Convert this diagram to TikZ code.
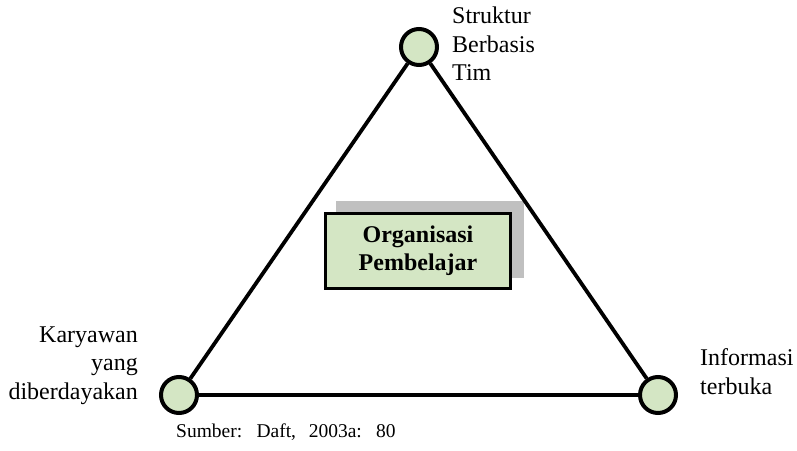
\documentclass[tikz,border=0pt]{standalone}
\usepackage{fontspec}
\setmainfont{Liberation Serif}
\usepackage{xcolor}
\usepackage{tikz}
\definecolor{hijau}{RGB}{212,230,196}
\definecolor{bayang}{RGB}{192,192,192}
\newcommand{\sumberfont}{\fontsize{19.5}{23}\selectfont\spaceskip=0.65em\relax}

\begin{document}
\begin{tikzpicture}[x=1pt,y=-1pt,
  titik/.style={circle,draw=black,line width=4pt,fill=hijau,minimum size=36pt,inner sep=0pt},
  sisi/.style={line width=3.8pt},
  teks/.style={font=\fontsize{24}{28.5}\selectfont,inner sep=0pt}]
\useasboundingbox (0,0) rectangle (797,450);

% Bayangan kotak tengah
\fill[bayang] (336,201) rectangle (524,278);

% Titik sudut segitiga
\node[titik] (tim) at (419,47) {};
\node[titik] (karyawan) at (179,395) {};
\node[titik] (info) at (658,395) {};

% Sisi segitiga
\draw[sisi] (tim) -- (karyawan);
\draw[sisi] (karyawan) -- (info);
\draw[sisi] (info) -- (tim);

% Kotak tengah
\node[draw,line width=2.2pt,fill=hijau,minimum width=185pt,minimum height=75pt,
  font=\fontsize{24}{28}\selectfont\bfseries,align=center] (org) at (418,251)
  {Organisasi\\Pembelajar};

% Label sudut
\node[teks,anchor=north west,align=left] (lblTim) at (452,7) {Struktur\\Berbasis\\Tim};
\node[teks,anchor=north east,align=right] (lblKaryawan) at (138,326.5) {Karyawan\\yang\\diberdayakan};
\node[teks,anchor=north west,align=left] (lblInfo) at (700,348.5) {Informasi\\terbuka};

% Sumber
\node[font=\sumberfont,inner sep=0pt,anchor=base west]
  (sumber) at (176,437) {Sumber: Daft, 2003a: 80};
\end{tikzpicture}
\end{document}
